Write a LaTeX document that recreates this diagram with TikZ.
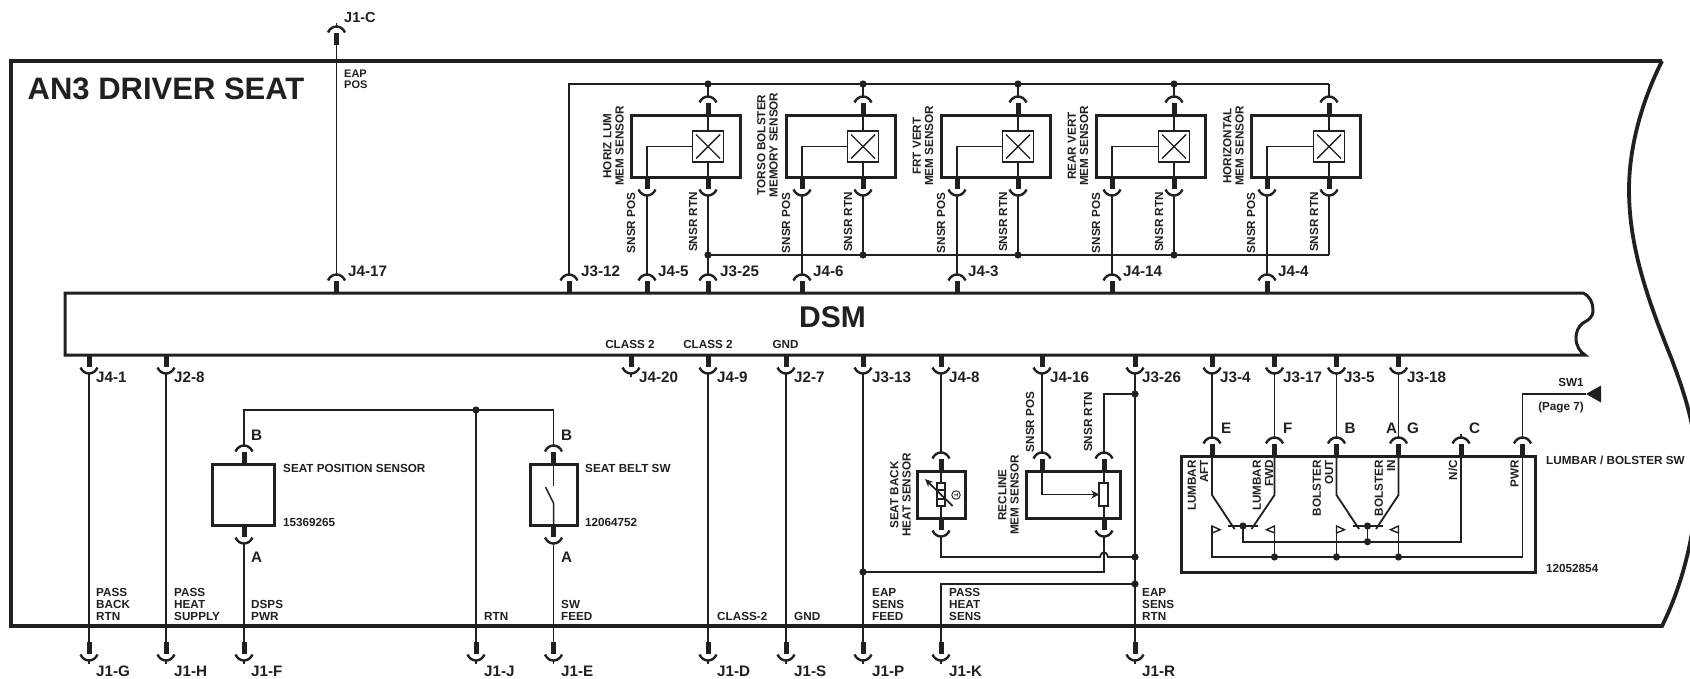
\documentclass[tikz,border=0pt]{standalone}
\usepackage{fontspec}
\setmainfont{Liberation Sans}
\usetikzlibrary{arrows.meta,calc}
\definecolor{ink}{HTML}{231F20}
\tikzset{
  wire/.style={draw=ink,line width=1.8pt},
  stub/.style={draw=ink,line width=5pt},
  cup/.style={draw=ink,line width=2.4pt},
  frameline/.style={draw=ink,line width=3.8pt,line join=miter},
  bodybox/.style={draw=ink,line width=3pt,inner sep=0pt,outer sep=0pt},
  partbox/.style={draw=ink,line width=1.8pt,fill=white,inner sep=0pt,outer sep=0pt},
  small/.style={font=\fontsize{11.7}{12.2}\selectfont\bfseries,text=ink,inner sep=0pt,align=left,anchor=west},
  smallrot/.style={font=\fontsize{11.7}{12.2}\selectfont\bfseries,text=ink,inner sep=0pt,align=center,rotate=90},
  smallrotr/.style={font=\fontsize{11.7}{12.2}\selectfont\bfseries,text=ink,inner sep=0pt,align=right,rotate=90,anchor=east},
  pinlbl/.style={font=\fontsize{15.2}{16}\selectfont\bfseries,text=ink,inner sep=0pt,anchor=west},
  junction/.style={circle,fill=ink,inner sep=0pt,minimum size=7.2pt}
}
\newcommand\pinU[3]{%
  \coordinate (#1) at (#2,#3-18.5);
  \coordinate (#1e) at (#2,#3);
  \draw[stub] (#2,#3) -- (#2,#3-12);
  \draw[cup] (#2-8.5,#3-12.5) .. controls (#2-5,#3-20.5) and (#2+5,#3-20.5) .. (#2+8.5,#3-12.5);}
\newcommand\pinD[3]{%
  \coordinate (#1) at (#2,#3+18.5);
  \coordinate (#1e) at (#2,#3);
  \draw[stub] (#2,#3) -- (#2,#3+12);
  \draw[cup] (#2-8.5,#3+12.5) .. controls (#2-5,#3+20.5) and (#2+5,#3+20.5) .. (#2+8.5,#3+12.5);}
\newcommand\tickD[1]{\draw[wire] (#1) -- ++(0,3.5);}
\newcommand\tickU[1]{\draw[wire] (#1) -- ++(0,-3.5);}
\newcommand\bodyn[6][bodybox]{\node[#1,minimum width={(#5-#3)*1pt},minimum height={(#6-#4)*1pt}] (#2) at ({(#3+#5)/2},{(#4+#6)/2}) {};}
\newcommand\dotn[1]{\node[junction] at (#1) {};}
\begin{document}
\begin{tikzpicture}[x=1pt,y=-1pt]
\useasboundingbox (0,0) rectangle (1690,678);
% outer frame
\draw[frameline] (1662,61) -- (11,61) -- (11,626) -- (1662,626)
  .. controls (1680,590) and (1697,535) .. (1697,475)
  .. controls (1697,430) and (1685,395) .. (1672,360)
  .. controls (1650,305) and (1629,250) .. (1629,190)
  .. controls (1629,150) and (1640,105) .. (1662,61);
% DSM bar
\draw[draw=ink,line width=3pt] (65,293) -- (1583,293)
  .. controls (1590,296) and (1593,303) .. (1593,310)
  .. controls (1593,318) and (1588,320) .. (1583,323)
  .. controls (1578,327) and (1576,332) .. (1576,338)
  .. controls (1576,346) and (1580,352) .. (1585,355) -- (65,355) -- cycle;
\node[font=\fontsize{30}{30}\selectfont\bfseries,text=ink,inner sep=0pt] (dsm) at (832.5,317.5) {DSM};
\node[font=\fontsize{31}{32}\selectfont\bfseries,text=ink,inner sep=0pt,anchor=west] (title) at (27.5,88.5) {AN3 DRIVER SEAT};
% J1-C / J4-17
\pinU{JC}{336.5}{45}\tickU{JC}
\pinU{J417}{336.5}{293}
\draw[wire] (JCe) -- (J417);
\node[pinlbl,font=\fontsize{14.5}{16}\selectfont\bfseries] (lJC) at (344,18) {J1-C};
\node[pinlbl] (lJ417) at (348,271) {J4-17};
\node[small,font=\fontsize{11}{11}\selectfont\bfseries] (lEAP) at (344,79) {EAP\\POS};
% memory sensors
\pinU{J312}{569}{293}
\pinU{J325}{708}{293}
\foreach \n/\p/\r/\b in {1/647/708/631,2/802/863/786,3/957/1018/941,4/1112/1174/1096,5/1267/1329/1251}{
  \pgfmathsetmacro\bb{\b+109}
  \bodyn{sb\n}{\b}{115}{\bb}{177}
  \pinU{pt\n}{\r}{115}
  \pinD{pl\n}{\p}{177}
  \pinD{pr\n}{\r}{177}
  \pinU{dp\n}{\p}{293}
  \coordinate (tr\n) at (\r,84);
  \coordinate (br\n) at (\r,255);
  \node[partbox,minimum width=31pt,minimum height=31pt] (xb\n) at (\r,146.5) {};
  \draw[wire] (pt\n e) -- (xb\n.north);
  \draw[wire] (xb\n.south) -- (pr\n e);
  \draw[wire] (pl\n e) |- (xb\n.west);
  \draw[draw=ink,line width=1.4pt] (\r-12,134.5) -- (\r+12,158.5) (\r-12,158.5) -- (\r+12,134.5);
  \draw[wire] (tr\n) -- (pt\n);
  \draw[wire] (pr\n) -- (br\n);
  \draw[wire] (pl\n) -- (dp\n);
  \node[smallrot] (lp\n) at (\p-16,223) {SNSR POS};
  \node[smallrot] (lr\n) at (\r-15,222) {SNSR RTN};
}
\draw[wire] (J312) |- (tr1) -- (tr5);
\draw[wire] (br1) -- (br5);
\draw[wire] (br1) -- (J325);
\foreach \n in {1,2,3,4}{\dotn{tr\n}\dotn{br\n}}
\node[smallrot] (n1) at (613.5,146) {HORIZ LUM\\MEM SENSOR};
\node[smallrot] (n2) at (767.5,145) {TORSO BOLSTER\\MEMORY SENSOR};
\node[smallrot] (n3) at (923,146) {FRT VERT\\MEM SENSOR};
\node[smallrot] (n4) at (1078,146) {REAR VERT\\MEM SENSOR};
\node[smallrot] (n5) at (1233.5,146) {HORIZONTAL\\MEM SENSOR};
\node[pinlbl] (lJ312) at (581,271) {J3-12};
\node[pinlbl] (lJ45) at (658,271) {J4-5};
\node[pinlbl] (lJ325) at (720,271) {J3-25};
\node[pinlbl] (lJ46) at (813,271) {J4-6};
\node[pinlbl] (lJ43) at (968,271) {J4-3};
\node[pinlbl] (lJ414) at (1123,271) {J4-14};
\node[pinlbl] (lJ44) at (1278,271) {J4-4};
% lower DSM pins
\foreach \nm/\x in {J41/89,J28/166,J420/631,J49/708,J27/786,J313/863,J48/941,J416/1042,J326/1135,J34/1212,J317/1274.5,J35/1336.5,J318/1398.5}{\pinD{\nm}{\x}{355}}
\tickD{J420}
\foreach \nm/\x in {G/89,H/166,F/244,J/476,E/553.5,D/708,S/786,P/863,K/941,R/1135}{\pinD{JJ\nm}{\x}{642}\tickD{JJ\nm}}
\foreach \nm/\x/\t in {J41/96/J4-1,J28/174/J2-8,J420/639/J4-20,J49/717/J4-9,J27/794/J2-7,J313/872/J3-13,J48/949/J4-8,J416/1050/J4-16,J326/1142/J3-26,J34/1220/J3-4,J317/1283/J3-17,J35/1344/J3-5,J318/1407/J3-18}{\node[pinlbl] (l\nm) at (\x,377) {\t};}
\foreach \nm/\x/\t in {G/96/J1-G,H/174/J1-H,F/251/J1-F,J/484/J1-J,E/561/J1-E,D/717/J1-D,S/794/J1-S,P/872/J1-P,K/949/J1-K,R/1142/J1-R}{\node[pinlbl] (lJ1\nm) at (\x,671) {\t};}
\draw[wire] (J41) -- (JJGe);
\draw[wire] (J28) -- (JJHe);
\draw[wire] (J49) -- (JJDe);
\draw[wire] (J27) -- (JJSe);
\draw[wire] (J313) -- (JJPe);
\draw[wire] (J326) -- (JJRe);
\node[font=\fontsize{11.7}{12}\selectfont\bfseries,text=ink,inner sep=0pt] (c2a) at (630,344) {CLASS 2};
\node[font=\fontsize{11.7}{12}\selectfont\bfseries,text=ink,inner sep=0pt] (c2b) at (708,344) {CLASS 2};
\node[font=\fontsize{11.7}{12}\selectfont\bfseries,text=ink,inner sep=0pt] (gnda) at (785.5,344) {GND};
% seat position sensor and seat belt switch
\bodyn{spos}{212.5}{464}{274.5}{525}
\bodyn{sbelt}{530}{464}{577}{525}
\pinU{sB}{244}{464}
\pinD{sA}{244}{525}
\pinU{bB}{553.5}{464}
\pinD{bA}{553.5}{525}
\coordinate (rtnj) at (476,410);
\draw[wire] (sB) |- (rtnj) -| (bB);
\dotn{rtnj}
\draw[wire] (rtnj) -- (JJJe);
\draw[wire] (sA) -- (JJFe);
\draw[wire] (bA) -- (JJEe);
\coordinate (swa) at (553.5,486);
\coordinate (swb) at (545.5,487);
\coordinate (swc) at (553.5,503);
\draw[wire] (bBe) -- (swa);
\draw[draw=ink,line width=1.5pt] (swb) -- (swc) -- (bAe);
\node[pinlbl] (lsB) at (251,435.5) {B};
\node[pinlbl] (lsA) at (251,557) {A};
\node[pinlbl] (lbB) at (561,435.5) {B};
\node[pinlbl] (lbA) at (561,557) {A};
\node[small] (t1) at (283,468.5) {SEAT POSITION SENSOR};
\node[small] (t2) at (283,522) {15369265};
\node[small] (t3) at (585,468.5) {SEAT BELT SW};
\node[small] (t4) at (585,522) {12064752};
% bottom labels
\node[small] (b1) at (96,604.5) {PASS\\BACK\\RTN};
\node[small] (b2) at (174,604.5) {PASS\\HEAT\\SUPPLY};
\node[small] (b3) at (251,610.5) {DSPS\\PWR};
\node[small] (b4) at (484,616.5) {RTN};
\node[small] (b5) at (561,610.5) {SW\\FEED};
\node[small] (b6) at (717,616.5) {CLASS-2};
\node[small] (b7) at (794,616.5) {GND};
\node[small] (b8) at (872,604.5) {EAP\\SENS\\FEED};
\node[small] (b9) at (949,604.5) {PASS\\HEAT\\SENS};
\node[small] (b10) at (1142,604.5) {EAP\\SENS\\RTN};
% seat back heat sensor
\bodyn{hs}{917}{471}{965.5}{518}
\pinU{hsT}{941}{471}
\pinD{hsB}{941}{518}
\draw[wire] (J48) -- (hsT);
\draw[wire] (hsTe) -- (hsBe);
\node[partbox,minimum width=7.5pt,minimum height=23pt] (hsR) at (941,494.5) {};
\draw[draw=ink,line width=1.2pt] (937.5,490) -- (944.5,490) (937.5,499) -- (944.5,499);
\coordinate (hsa) at (952.7,506);
\coordinate (hsb) at (925,479);
\draw[draw=ink,line width=1.7pt,-{Stealth[length=8pt,width=7pt]}] (hsa) -- (hsb);
\node[draw=ink,circle,line width=0.9pt,minimum size=8.5pt,inner sep=0pt,font=\fontsize{6}{6}\selectfont\bfseries,text=ink,rotate=-90] (hst) at (956,495) {T};
\node[smallrot] (n6) at (900.5,495) {SEAT BACK\\HEAT SENSOR};
% recline sensor
\bodyn{rc}{1026}{471}{1120}{518}
\pinU{rcP}{1042}{471}
\pinU{rcR}{1104}{471}
\pinD{rcB}{1104}{518}
\draw[wire] (J416) -- (rcP);
\coordinate (rtj) at (1135,394);
\draw[wire] (rcR) |- (rtj);
\dotn{rtj}
\draw[wire] (rcRe) -- (rcBe);
\node[partbox,minimum width=8.5pt,minimum height=23pt] (rcS) at (1103.5,494.5) {};
\draw[wire,-{Stealth[length=8pt,width=8pt]}] (rcPe) |- (rcS.west);
\node[smallrot] (n7) at (1008.5,495) {RECLINE\\MEM SENSOR};
\node[smallrot] (n8) at (1030,422) {SNSR POS};
\node[smallrot] (n9) at (1088,422) {SNSR RTN};
% lower junctions
\coordinate (hj) at (1135,557);
\coordinate (fj) at (863,572);
\coordinate (kj) at (1135,584);
\coordinate (hopa) at (1100,557);
\coordinate (hopb) at (1108,557);
\draw[wire] (hsB) |- (hopa) .. controls (1102,550.5) and (1106,550.5) .. (hopb) -- (hj);
\draw[wire] (rcB) |- (fj);
\draw[wire] (JJKe) |- (kj);
\dotn{hj}\dotn{fj}\dotn{kj}
% lumbar / bolster switch
\bodyn{lb}{1181}{456}{1535.5}{572}
\foreach \nm/\x in {pE/1212,pF/1274.5,pB/1336.5,pG/1398.5,pC/1461,pW/1522.5}{\pinU{\nm}{\x}{456}}
\tickU{pC}
\draw[wire] (J34) -- (pE);
\draw[wire] (J317) -- (pF);
\draw[wire] (J35) -- (pB);
\draw[wire] (J318) -- (pG);
\foreach \nm/\x/\t in {E/1221/E,F/1283/F,B/1344.5/B,A/1386/A,G/1407/G,C/1469/C}{\node[pinlbl] (lp\nm) at (\x,428) {\t};}
\foreach \xa/\xb/\xc/\nm in {1212/1274.5/1243/u,1336.5/1398.5/1367.5/v}{
  \coordinate (ct\nm) at (\xc,526);
  \draw[wire] (\xa,456) -- (\xa,495) -- (\xc-8.5,529);
  \draw[wire] (\xb,456) -- (\xb,495) -- (\xc+8.5,529);
  \draw[wire] (\xc-15,526) -- (\xc+15,526);
  \dotn{ct\nm}
  \draw[draw=ink,line width=1.4pt,fill=white] (\xa,526) -- (\xa+8,529.7) -- (\xa,533) -- cycle;
  \draw[draw=ink,line width=1.4pt,fill=white] (\xb,526) -- (\xb-8,529.7) -- (\xb,533) -- cycle;
}
\coordinate (raila) at (1367.5,541.7);
\coordinate (r1) at (1212,557);
\coordinate (r2) at (1274.5,557);
\coordinate (r3) at (1336.5,557);
\coordinate (r4) at (1398.5,557);
\draw[wire] (ctu) |- (raila) -| (pCe);
\draw[wire] (ctv) -- (raila);
\dotn{raila}
\draw[wire] (1212,526) -- (r1) -- (r4) -| (pWe);
\draw[wire] (1274.5,526) -- (r2);
\draw[wire] (1336.5,526) -- (r3);
\draw[wire] (1398.5,526) -- (r4);
\dotn{r2}\dotn{r3}\dotn{r4}
\coordinate (sw1tip) at (1586,394);
\draw[wire] (pW) |- (sw1tip);
\fill[ink] (sw1tip) -- (1601,385.5) -- (1601,402.5) -- cycle;
\node[font=\fontsize{11.7}{12}\selectfont\bfseries,text=ink,inner sep=0pt] (sw1) at (1571,382) {SW1};
\node[font=\fontsize{11.7}{12}\selectfont\bfseries,text=ink,inner sep=0pt] (pg7) at (1561,407) {(Page 7)};
\node[smallrotr] (m1) at (1198,460) {LUMBAR\\AFT};
\node[smallrotr] (m2) at (1263,460) {LUMBAR\\FWD};
\node[smallrotr] (m3) at (1323,460) {BOLSTER\\OUT};
\node[smallrotr] (m4) at (1385,460) {BOLSTER\\IN};
\node[smallrotr] (m5) at (1453,460) {N/C};
\node[smallrotr] (m6) at (1514.5,460) {PWR};
\node[small] (t5) at (1546,460) {LUMBAR / BOLSTER SW};
\node[small] (t6) at (1546,568) {12052854};
\end{tikzpicture}
\end{document}
